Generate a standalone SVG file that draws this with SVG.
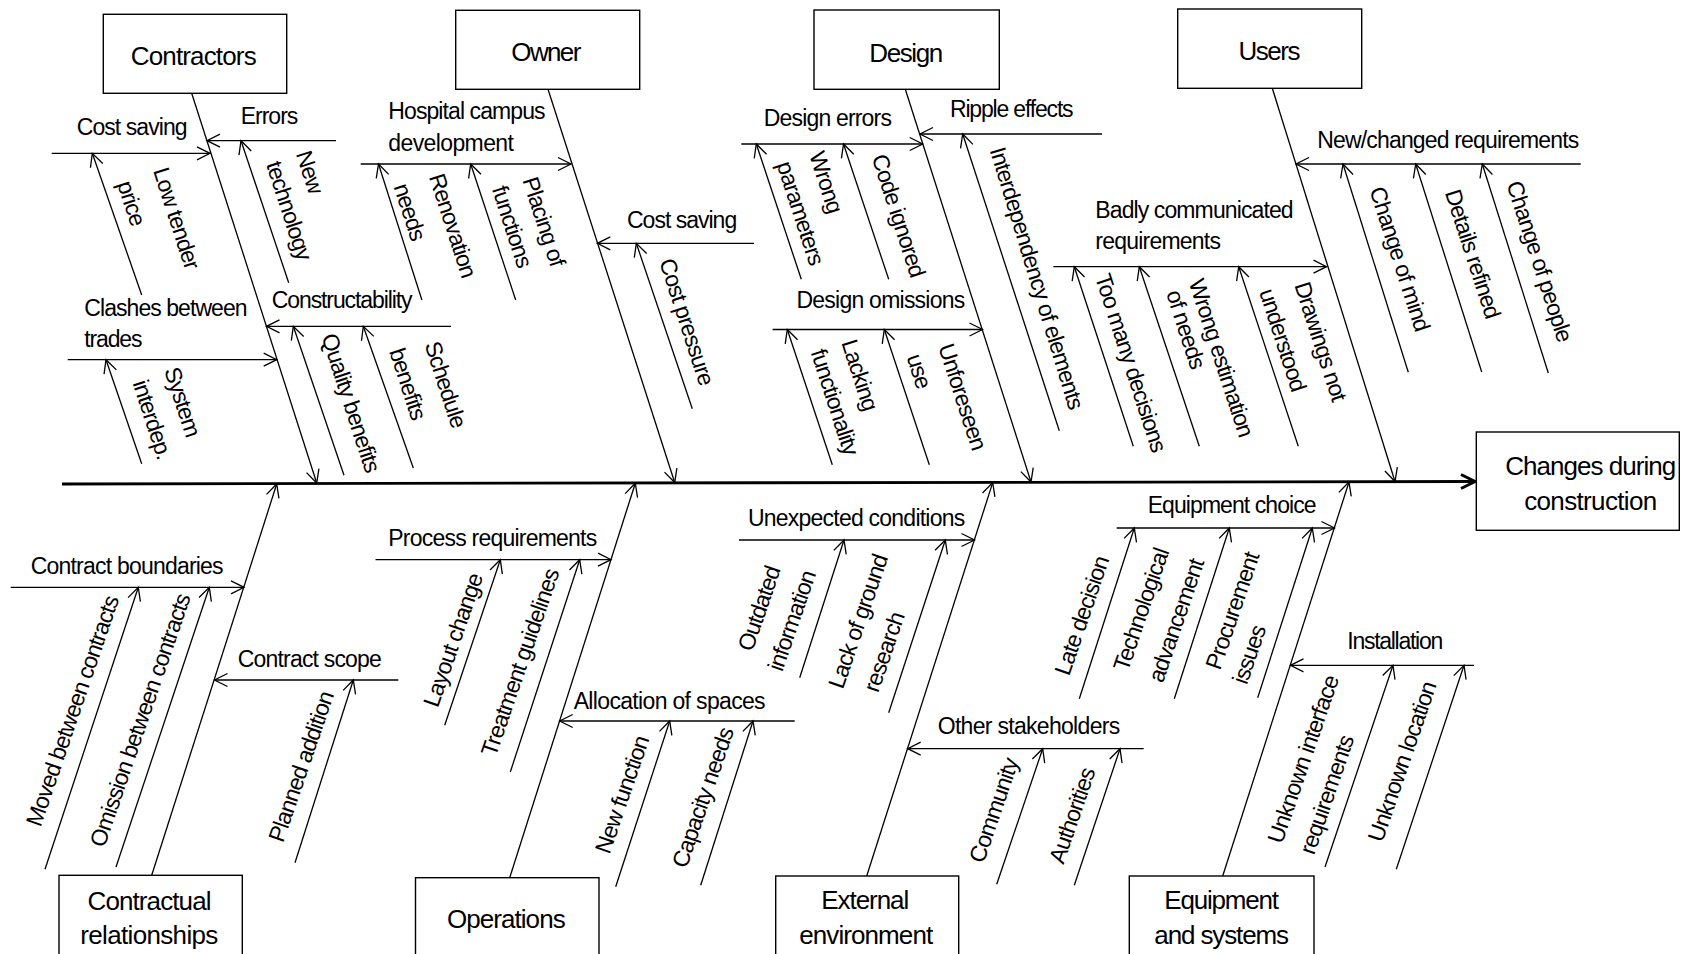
<svg xmlns="http://www.w3.org/2000/svg" width="1692" height="954" viewBox="0 0 1692 954">
<defs>
<style>
.bx{fill:#fff;stroke:#000;stroke-width:1.4}
.ln{fill:none;stroke:#000;stroke-width:1.3;marker-end:url(#ah)}
.spine{fill:none;stroke:#000;stroke-width:2.8;marker-end:url(#sp)}
text{font-family:"Liberation Sans",Arial,sans-serif;fill:#000}
.h{font-size:26px;text-anchor:middle}
.s{font-size:23px;letter-spacing:-0.9px}
.r{font-size:23px;letter-spacing:-0.9px;text-anchor:middle}
</style>
<marker id="ah" viewBox="-14 -8 16 16" refX="0" refY="0" markerWidth="16" markerHeight="16" markerUnits="userSpaceOnUse" orient="auto"><path d="M-13,-6.5L0,0L-13,6.5" fill="none" stroke="#000" stroke-width="1.3"/></marker>
<marker id="sp" viewBox="-16 -9 20 18" refX="0" refY="0" markerWidth="20" markerHeight="18" markerUnits="userSpaceOnUse" orient="auto"><path d="M-14,-7L0,0L-14,7" fill="none" stroke="#000" stroke-width="3"/></marker>
</defs>
<rect width="1692" height="954" fill="#fff"/>

<!-- connectors: spine, category bones, cause lines -->
<g id="connectors">
<line class="spine" x1="62" y1="484" x2="1475" y2="481.5"/>
<!-- category bones -->
<line class="ln" x1="191.7" y1="93.3" x2="316.7" y2="483"/>
<line class="ln" x1="548" y1="89.3" x2="674.7" y2="482.5"/>
<line class="ln" x1="905.3" y1="89.3" x2="1031" y2="482"/>
<line class="ln" x1="1272.3" y1="88.3" x2="1395" y2="481.5"/>
<line class="ln" x1="151.7" y1="875.3" x2="276.7" y2="484"/>
<line class="ln" x1="509.7" y1="877.7" x2="635.3" y2="483.2"/>
<line class="ln" x1="866.7" y1="876" x2="992.7" y2="482.6"/>
<line class="ln" x1="1222.7" y1="876" x2="1349" y2="482"/>
<!-- cause lines -->
<line class="ln" x1="51.7" y1="153.3" x2="210" y2="153.3"/>
<line class="ln" x1="336" y1="140.7" x2="207" y2="140.7"/>
<line class="ln" x1="67.7" y1="359.7" x2="276.7" y2="359.7"/>
<line class="ln" x1="451" y1="326.3" x2="266.5" y2="326.3"/>
<line class="ln" x1="360.7" y1="164" x2="571" y2="164"/>
<line class="ln" x1="754" y1="243.3" x2="597.3" y2="243.3"/>
<line class="ln" x1="741.3" y1="144" x2="922.7" y2="144"/>
<line class="ln" x1="1102" y1="134" x2="920" y2="134"/>
<line class="ln" x1="772.6" y1="329.5" x2="982.5" y2="329.5"/>
<line class="ln" x1="1053.3" y1="266.7" x2="1326.5" y2="266.7"/>
<line class="ln" x1="1580.7" y1="164" x2="1296" y2="164"/>
<line class="ln" x1="10.7" y1="587.3" x2="244" y2="587.3"/>
<line class="ln" x1="398.3" y1="680" x2="214.5" y2="680"/>
<line class="ln" x1="375.5" y1="559.7" x2="611" y2="559.7"/>
<line class="ln" x1="794.7" y1="721" x2="559.7" y2="721"/>
<line class="ln" x1="739" y1="540" x2="974.5" y2="540"/>
<line class="ln" x1="1143.7" y1="748.7" x2="907.7" y2="748.7"/>
<line class="ln" x1="1116.7" y1="528" x2="1334.5" y2="528"/>
<line class="ln" x1="1474" y1="665.3" x2="1290.5" y2="665.3"/>
<!-- sub-cause lines -->
<line class="ln" x1="141.7" y1="295" x2="92.3" y2="153.3"/>
<line class="ln" x1="288.7" y1="282.7" x2="241" y2="140.7"/>
<line class="ln" x1="141.7" y1="463.7" x2="106" y2="359.7"/>
<line class="ln" x1="344" y1="475.3" x2="293.3" y2="326.3"/>
<line class="ln" x1="413.3" y1="468" x2="363.3" y2="326.3"/>
<line class="ln" x1="421.9" y1="300" x2="378.5" y2="164"/>
<line class="ln" x1="515.7" y1="300" x2="470.7" y2="164"/>
<line class="ln" x1="692.3" y1="408.7" x2="636.3" y2="243.3"/>
<line class="ln" x1="801.3" y1="279.3" x2="756.3" y2="144"/>
<line class="ln" x1="888.7" y1="279.3" x2="843.5" y2="144"/>
<line class="ln" x1="832.3" y1="464.7" x2="787.3" y2="329.5"/>
<line class="ln" x1="929.3" y1="464.7" x2="884.3" y2="329.5"/>
<line class="ln" x1="1059.3" y1="430.7" x2="962.7" y2="134"/>
<line class="ln" x1="1133.3" y1="446.3" x2="1074.3" y2="266.7"/>
<line class="ln" x1="1199.3" y1="446.3" x2="1139.3" y2="266.7"/>
<line class="ln" x1="1298.3" y1="446.3" x2="1238.7" y2="266.7"/>
<line class="ln" x1="1408.3" y1="372.3" x2="1343" y2="164"/>
<line class="ln" x1="1481.7" y1="372" x2="1415.7" y2="164"/>
<line class="ln" x1="1548.3" y1="373" x2="1482.3" y2="164"/>
<line class="ln" x1="45" y1="869.3" x2="138.3" y2="587.3"/>
<line class="ln" x1="116" y1="867" x2="209.3" y2="587.3"/>
<line class="ln" x1="295" y1="862.7" x2="353.3" y2="680"/>
<line class="ln" x1="444.7" y1="725.3" x2="500.3" y2="559.7"/>
<line class="ln" x1="510.3" y1="772" x2="579.7" y2="559.7"/>
<line class="ln" x1="615.7" y1="886.7" x2="669.7" y2="721"/>
<line class="ln" x1="700.7" y1="885.3" x2="753" y2="721"/>
<line class="ln" x1="799.7" y1="677.7" x2="844" y2="540"/>
<line class="ln" x1="888.7" y1="712.7" x2="945.3" y2="540"/>
<line class="ln" x1="996.7" y1="884.3" x2="1042.7" y2="748.7"/>
<line class="ln" x1="1074.3" y1="885.3" x2="1120" y2="748.7"/>
<line class="ln" x1="1079.3" y1="698.7" x2="1134.3" y2="528"/>
<line class="ln" x1="1174.3" y1="698.7" x2="1229.3" y2="528"/>
<line class="ln" x1="1257.7" y1="697.7" x2="1312.3" y2="528"/>
<line class="ln" x1="1325" y1="867" x2="1393" y2="665.3"/>
<line class="ln" x1="1396.3" y1="869.3" x2="1464" y2="665.3"/>
</g>

<!-- effect -->
<g id="effect">
<rect class="bx" x="1476.3" y="432" width="203" height="98.3"/>
<text class="h" x="1590.7" y="475.3" textLength="171">Changes during</text>
<text class="h" x="1590.7" y="509.7" textLength="133">construction</text>
</g>

<!-- categories -->
<g id="cat-contractors">
<rect class="bx" x="103.3" y="14.3" width="183.4" height="79"/>
<text class="h" x="193.7" y="65" textLength="126">Contractors</text>
</g>
<g id="cat-owner">
<rect class="bx" x="455.7" y="10.3" width="184" height="79"/>
<text class="h" x="546.3" y="61" textLength="70">Owner</text>
</g>
<g id="cat-design">
<rect class="bx" x="814" y="10" width="185.3" height="79.3"/>
<text class="h" x="906.3" y="61.7" textLength="74">Design</text>
</g>
<g id="cat-users">
<rect class="bx" x="1177.7" y="9" width="184" height="79.3"/>
<text class="h" x="1269.5" y="60" textLength="62">Users</text>
</g>
<g id="cat-contractual">
<rect class="bx" x="59" y="875.3" width="183.3" height="100"/>
<text class="h" x="149.5" y="910" textLength="124">Contractual</text>
<text class="h" x="149.3" y="944" textLength="138">relationships</text>
</g>
<g id="cat-operations">
<rect class="bx" x="415.5" y="877.7" width="183.5" height="100"/>
<text class="h" x="506.3" y="927.7" textLength="118.7">Operations</text>
</g>
<g id="cat-external">
<rect class="bx" x="775.7" y="876" width="183" height="100"/>
<text class="h" x="865.3" y="909.3" textLength="88">External</text>
<text class="h" x="866.2" y="944.3" textLength="134">environment</text>
</g>
<g id="cat-equipment">
<rect class="bx" x="1129.3" y="876" width="184.7" height="100"/>
<text class="h" x="1221.7" y="909.3" textLength="114.7">Equipment</text>
<text class="h" x="1221.7" y="944.3" textLength="134.7">and systems</text>
</g>

<!-- causes: Contractors -->
<g id="cause-contractors-cost-saving">
<text class="s" x="76.7" y="135" textLength="110">Cost saving</text>
<text class="r" transform="translate(169.1 220.4) rotate(72)">Low tender</text>
<text class="r" transform="translate(124.1 205.4) rotate(72)">price</text>
</g>
<g id="cause-contractors-errors">
<text class="s" x="240.7" y="124" textLength="56.7">Errors</text>
<text class="r" transform="translate(302.4 174.4) rotate(72)">New</text>
<text class="r" transform="translate(281.7 212.8) rotate(72)">technology</text>
</g>
<g id="cause-contractors-clashes">
<text class="s" x="84.3" y="315.5" textLength="162.4">Clashes between</text>
<text class="s" x="84.3" y="347.3" textLength="57.3">trades</text>
<text class="r" transform="translate(175.1 404.1) rotate(72)">System</text>
<text class="r" transform="translate(145.1 421.8) rotate(72)">interdep.</text>
</g>
<g id="cause-contractors-constructability">
<text class="s" x="271.7" y="308.3" textLength="140">Constructability</text>
<text class="r" transform="translate(343.4 405.1) rotate(72)">Quality benefits</text>
<text class="r" transform="translate(438.1 386.8) rotate(72)">Schedule</text>
<text class="r" transform="translate(400.4 386.1) rotate(72)">benefits</text>
</g>

<!-- causes: Owner -->
<g id="cause-owner-campus">
<text class="s" x="388.3" y="119.3" textLength="156.4">Hospital campus</text>
<text class="s" x="388.3" y="150.7" textLength="124.7">development</text>
<text class="r" transform="translate(445.4 227.8) rotate(72)">Renovation</text>
<text class="r" transform="translate(402.4 214.1) rotate(72)">needs</text>
<text class="r" transform="translate(536.4 223.8) rotate(72)">Placing of</text>
<text class="r" transform="translate(504.7 228.8) rotate(72)">functions</text>
</g>
<g id="cause-owner-cost-saving">
<text class="s" x="627" y="228.3" textLength="109.3">Cost saving</text>
<text class="r" transform="translate(679.4 324.1) rotate(72)">Cost pressure</text>
</g>

<!-- causes: Design -->
<g id="cause-design-errors">
<text class="s" x="763.7" y="126" textLength="127.3">Design errors</text>
<text class="r" transform="translate(818.7 184.4) rotate(72)">Wrong</text>
<text class="r" transform="translate(793.1 215.4) rotate(72)">parameters</text>
<text class="r" transform="translate(891.1 217.8) rotate(72)">Code ignored</text>
</g>
<g id="cause-design-omissions">
<text class="s" x="796.4" y="308.3" textLength="168">Design omissions</text>
<text class="r" transform="translate(852.4 377.1) rotate(72)">Lacking</text>
<text class="r" transform="translate(827.4 404.1) rotate(72)">functionality</text>
<text class="r" transform="translate(955.1 399.1) rotate(72)">Unforeseen</text>
<text class="r" transform="translate(911.7 373.4) rotate(72)">use</text>
</g>
<g id="cause-design-ripple">
<text class="s" x="950" y="116.7" textLength="122.7">Ripple effects</text>
<text class="r" transform="translate(1029.4 280.1) rotate(73)">Interdependency of elements</text>
</g>

<!-- causes: Users -->
<g id="cause-users-badly-communicated">
<text class="s" x="1095.3" y="218.3" textLength="197.4">Badly communicated</text>
<text class="s" x="1095.3" y="249.3" textLength="124.7">requirements</text>
<text class="r" transform="translate(1123.4 365.1) rotate(72)">Too many decisions</text>
<text class="r" transform="translate(1213.9 360.1) rotate(72)">Wrong estimation</text>
<text class="r" transform="translate(1178.4 331.6) rotate(72)">of needs</text>
<text class="r" transform="translate(1313.2 343.6) rotate(72)">Drawings not</text>
<text class="r" transform="translate(1275.4 342.1) rotate(72)">understood</text>
</g>
<g id="cause-users-new-requirements">
<text class="s" x="1317.3" y="148.3" textLength="261">New/changed requirements</text>
<text class="r" transform="translate(1392.4 261.1) rotate(72)">Change of mind</text>
<text class="r" transform="translate(1465.4 256.1) rotate(72)">Details refined</text>
<text class="r" transform="translate(1532.1 263.6) rotate(72)">Change of people</text>
</g>

<!-- causes: Contractual relationships -->
<g id="cause-contract-boundaries">
<text class="s" x="30.7" y="574" textLength="192">Contract boundaries</text>
<text class="r" transform="translate(79.8 713.7) rotate(-71)">Moved between contracts</text>
<text class="r" transform="translate(147.5 722.9) rotate(-71)">Omission between contracts</text>
</g>
<g id="cause-contract-scope">
<text class="s" x="237.7" y="666.7" textLength="143.3">Contract scope</text>
<text class="r" transform="translate(308.5 769.2) rotate(-71)">Planned addition</text>
</g>

<!-- causes: Operations -->
<g id="cause-process-requirements">
<text class="s" x="388.3" y="546.3" textLength="208">Process requirements</text>
<text class="r" transform="translate(460.5 642.7) rotate(-71)">Layout change</text>
<text class="r" transform="translate(527.5 665.2) rotate(-71)">Treatment guidelines</text>
</g>
<g id="cause-allocation">
<text class="s" x="573.7" y="709.3" textLength="191">Allocation of spaces</text>
<text class="r" transform="translate(629.5 797.2) rotate(-71)">New function</text>
<text class="r" transform="translate(710.2 800.2) rotate(-71)">Capacity needs</text>
</g>

<!-- causes: External environment -->
<g id="cause-unexpected-conditions">
<text class="s" x="748" y="526.3" textLength="216.3">Unexpected conditions</text>
<text class="r" transform="translate(766.5 611.2) rotate(-71)">Outdated</text>
<text class="r" transform="translate(799.1 623.4) rotate(-71)">information</text>
<text class="r" transform="translate(865.5 623.9) rotate(-71)">Lack of ground</text>
<text class="r" transform="translate(891.5 654.7) rotate(-71)">research</text>
</g>
<g id="cause-other-stakeholders">
<text class="s" x="937.7" y="734.3" textLength="181.6">Other stakeholders</text>
<text class="r" transform="translate(1001.2 813) rotate(-71)">Community</text>
<text class="r" transform="translate(1079.5 818.2) rotate(-71)">Authorities</text>
</g>

<!-- causes: Equipment and systems -->
<g id="cause-equipment-choice">
<text class="s" x="1147.7" y="513" textLength="168">Equipment choice</text>
<text class="r" transform="translate(1089.2 618.2) rotate(-71)">Late decision</text>
<text class="r" transform="translate(1148.5 612.2) rotate(-71)">Technological</text>
<text class="r" transform="translate(1183.5 623.2) rotate(-71)">advancement</text>
<text class="r" transform="translate(1239.8 613.4) rotate(-71)">Procurement</text>
<text class="r" transform="translate(1256.5 657.2) rotate(-71)">issues</text>
</g>
<g id="cause-installation">
<text class="s" x="1347.3" y="649.3" textLength="95">Installation</text>
<text class="r" transform="translate(1310.5 761.9) rotate(-71)">Unknown interface</text>
<text class="r" transform="translate(1334.2 797.4) rotate(-71)">requirements</text>
<text class="r" transform="translate(1409.5 764.2) rotate(-71)">Unknown location</text>
</g>
</svg>
